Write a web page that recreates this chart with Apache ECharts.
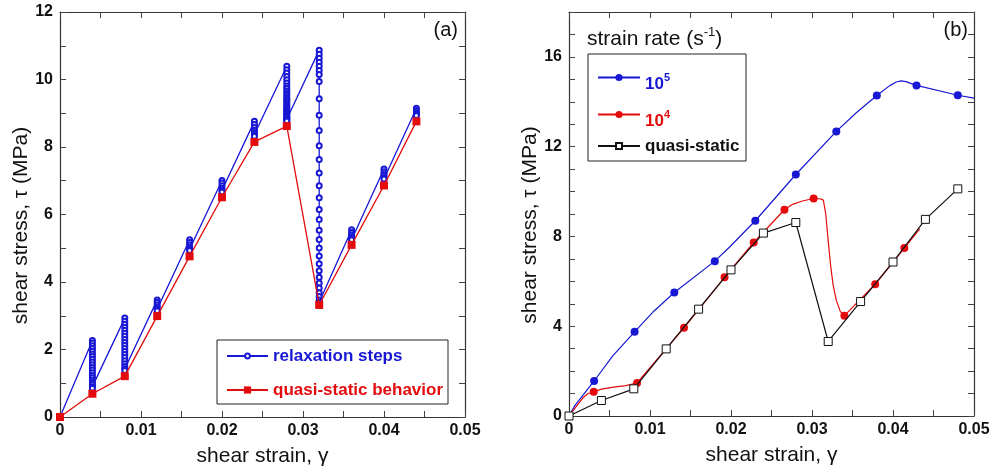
<!DOCTYPE html>
<html>
<head>
<meta charset="utf-8">
<script src="https://cdn.jsdelivr.net/npm/echarts@6/dist/echarts.min.js"></script>
<style>
  html, body { margin: 0; padding: 0; background: #fff; }
  #chart { width: 994px; height: 474px; }
</style>
</head>
<body>
<div id="chart"></div>
<script>
// ---- panel (a): stress relaxation test ----
// applied strain steps
const stepStrain = [0.004, 0.008, 0.012, 0.016, 0.020, 0.024, 0.028, 0.032, 0.036, 0.040, 0.044];
// stress recorded while holding each strain step (MPa), first to last
const relaxStress = [
  [2.27, 2.19, 2.11, 2.03, 1.95, 1.87, 1.79, 1.71, 1.63, 1.55, 1.47, 1.39, 1.31, 1.23, 1.16, 1.09, 1.02, 0.96, 0.90, 0.85],
  [2.93, 2.84, 2.75, 2.66, 2.57, 2.48, 2.39, 2.30, 2.21, 2.12, 2.03, 1.94, 1.85, 1.76, 1.67, 1.58, 1.50, 1.43, 1.38],
  [3.47, 3.39, 3.32, 3.25, 3.19, 3.15],
  [5.25, 5.17, 5.10, 5.03, 4.97, 4.93],
  [7.01, 6.93, 6.85, 6.78, 6.72, 6.67],
  [8.76, 8.67, 8.58, 8.50, 8.43, 8.37, 8.32],
  [10.39, 10.29, 10.19, 10.09, 9.99, 9.90, 9.81, 9.73, 9.66, 9.59, 9.53, 9.47, 9.41, 9.36, 9.31, 9.26, 9.21, 9.16, 9.12, 9.08, 9.04, 9.00, 8.96, 8.92, 8.88, 8.85, 8.82, 8.79, 8.77],
  [10.87, 10.75, 10.63, 10.51, 10.39, 10.27, 10.15, 9.94, 9.43, 8.94, 8.49, 8.04, 7.63, 7.23, 6.85, 6.50, 6.15, 5.85, 5.53, 5.26, 5.01, 4.77, 4.54, 4.33, 4.14, 3.97, 3.82, 3.68, 3.57, 3.47, 3.40],
  [5.55, 5.47, 5.40, 5.34, 5.29, 5.25],
  [7.35, 7.27, 7.20, 7.14, 7.09, 7.05],
  [9.15, 9.08, 9.02, 8.97, 8.93]
];
// relaxed (quasi-static) stress at each strain (MPa)
const qsStrain = [0, 0.004, 0.008, 0.012, 0.016, 0.020, 0.024, 0.028, 0.032, 0.036, 0.040, 0.044];
const qsStress = [0, 0.69, 1.21, 2.99, 4.76, 6.51, 8.15, 8.62, 3.32, 5.10, 6.86, 8.76];

// ---- panel (b): strain-rate dependence ----
// measured points (markers) and extra points tracing each curve between them
const rate5Marks = [[0.0031, 1.56], [0.0081, 3.75], [0.0130, 5.50], [0.0180, 6.90], [0.0230, 8.70], [0.0280, 10.76], [0.0330, 12.68], [0.0380, 14.28], [0.0429, 14.73], [0.0480, 14.29]];
const rate5Curve = [[0, 0], [0.0007, 0.45], [0.0054, 2.68], [0.0105, 4.68], [0.0198, 7.52], [0.0355, 13.52], [0.0396, 14.72], [0.0404, 14.88], [0.0410, 14.93], [0.0416, 14.90], [0.0500, 14.16]];
const rate4Marks = [[0.00305, 1.08], [0.0084, 1.47], [0.0142, 3.93], [0.0192, 6.18], [0.0228, 7.73], [0.0266, 9.19], [0.0302, 9.69], [0.0340, 4.47], [0.0378, 5.87], [0.0414, 7.48]];
const rate4Curve = [[0, 0], [0.0007, 0.33], [0.0017, 0.80], [0.0023, 0.99], [0.0040, 1.20], [0.0055, 1.29], [0.0070, 1.35], [0.0276, 9.43], [0.0288, 9.58], [0.0310, 9.68], [0.0314, 9.62], [0.0317, 9.00], [0.0320, 7.80], [0.0323, 6.70], [0.0326, 5.85], [0.0330, 5.15], [0.0335, 4.65], [0.0433, 8.34]];
const staticStrain = [0, 0.004, 0.008, 0.012, 0.016, 0.020, 0.024, 0.028, 0.032, 0.036, 0.040, 0.044, 0.048];
const staticStress = [0, 0.69, 1.21, 2.99, 4.76, 6.51, 8.15, 8.62, 3.32, 5.10, 6.86, 8.76, 10.12];

const BLUE = '#1717d4';
const RED = '#e30b0b';
const BLACK = '#111';
const FONT = '"Liberation Sans", Arial, Helvetica, sans-serif';

// relaxation path: origin, then every held step in order
const relaxData = [[0, 0]];
stepStrain.forEach((s, i) => relaxStress[i].forEach(v => relaxData.push([s, v])));

// curve with markers only on measured points
function withMarks(curve, marks) {
  const pts = curve.map(p => ({ value: p, symbol: 'none' })).concat(marks.map(p => ({ value: p })));
  pts.sort((a, b) => a.value[0] - b.value[0]);
  return pts;
}

function baseAxis(extra) {
  return Object.assign({
    type: 'value',
    axisLine: { show: true, onZero: false, lineStyle: { color: '#333', width: 1.2 } },
    axisTick: { show: true, inside: true, length: 6, lineStyle: { color: '#444', width: 1 } },
    splitLine: { show: false },
    minorTick: { show: false },
    nameTextStyle: { fontFamily: FONT, fontSize: 21, color: '#111' }
  }, extra);
}

const xLabel = v => (Math.round(v * 1000) % 10 === 0 ? (v === 0 ? '0' : v.toFixed(2)) : '');
function xAxes(grid) {
  return [
    baseAxis({
      gridIndex: grid, min: 0, max: 0.05, interval: 0.005, position: 'bottom',
      name: 'shear strain, γ', nameLocation: 'middle', nameGap: 29,
      axisLabel: { formatter: xLabel, margin: 6, fontFamily: FONT, fontSize: 16, fontWeight: 'bold', color: '#111' }
    }),
    baseAxis({ gridIndex: grid, min: 0, max: 0.05, interval: 0.005, position: 'top', axisLabel: { show: false } })
  ];
}
function yAxes(grid, max, labelStep, gap) {
  return [
    baseAxis({
      gridIndex: grid, min: 0, max: max, interval: 1, position: 'left',
      name: 'shear stress, τ (MPa)', nameLocation: 'middle', nameGap: gap,
      nameTextStyle: { fontFamily: FONT, fontSize: 21, color: '#111', padding: [0, 22, 0, 0] },
      axisLabel: {
        formatter: v => (Math.round(v) % labelStep === 0 ? String(Math.round(v)) : ''),
        margin: 7, fontFamily: FONT, fontSize: 16, fontWeight: 'bold', color: '#111'
      }
    }),
    baseAxis({ gridIndex: grid, min: 0, max: max, interval: 1, position: 'right', axisLabel: { show: false } })
  ];
}

const legendText = { fontFamily: FONT, fontSize: 17, fontWeight: 'bold', lineHeight: 20 };
function legendItem(name, left, top, h, color, extra) {
  return Object.assign({
    data: [name], left: left, top: top, orient: 'vertical', padding: 0,
    itemWidth: 42, itemHeight: h, selectedMode: false,
    textStyle: Object.assign({ color: color }, legendText)
  }, extra || {});
}
const supRich = color => ({
  n: { fontFamily: FONT, fontSize: 17, fontWeight: 'bold', color: color, lineHeight: 20, padding: [14, 0, 0, 0] },
  s: { fontFamily: FONT, fontSize: 11, fontWeight: 'bold', color: color, lineHeight: 12 }
});

const option = {
  animation: false,
  backgroundColor: '#fff',
  grid: [
    { left: 60, top: 12, width: 405, height: 405 },
    { left: 569, top: 12, width: 405, height: 404 }
  ],
  xAxis: xAxes(0).concat(xAxes(1)),
  yAxis: yAxes(0, 12, 2, 28).concat(yAxes(1, 18, 4, 27)),
  title: [
    { text: '(a)', right: 531, top: 15, textStyle: { fontFamily: FONT, fontSize: 20, fontWeight: 'normal', color: '#111' } },
    { text: '(b)', right: 21, top: 15, textStyle: { fontFamily: FONT, fontSize: 20, fontWeight: 'normal', color: '#111' } },
    {
      text: '{t|strain rate (s}{s|-1}{t|)}', left: 582, top: 22,
      textStyle: {
        rich: {
          t: { fontFamily: FONT, fontSize: 21, fontWeight: 'normal', color: '#111', lineHeight: 24 },
          s: { fontFamily: FONT, fontSize: 13, fontWeight: 'normal', color: '#111', lineHeight: 14, padding: [0, 0, 14, 0] }
        }
      }
    }
  ],
  legend: [
    legendItem('relaxation steps', 226, 346, 6, BLUE, { itemWidth: 41 }),
    legendItem('quasi-static behavior', 226, 380, 9, RED, { itemWidth: 41 }),
    legendItem('rate5', 597, 62, 9, BLUE, { formatter: '{n|10}{s|5}', textStyle: { rich: supRich(BLUE) } }),
    legendItem('rate4', 597, 99, 9, RED, { formatter: '{n|10}{s|4}', textStyle: { rich: supRich(RED) } }),
    legendItem('quasi-static', 597, 136, 7.5, BLACK)
  ],
  graphic: [
    { type: 'rect', shape: { x: 217, y: 340, width: 231, height: 64 }, style: { fill: 'none', stroke: '#222', lineWidth: 1 }, z: 50 },
    { type: 'rect', shape: { x: 588, y: 54, width: 158, height: 107 }, style: { fill: 'none', stroke: '#222', lineWidth: 1 }, z: 50 }
  ],
  series: [
    {
      name: 'relaxation steps', type: 'line', xAxisIndex: 0, yAxisIndex: 0, z: 2,
      data: relaxData, symbol: 'emptyCircle', symbolSize: 5, showAllSymbol: true,
      lineStyle: { color: BLUE, width: 1.3 }, itemStyle: { color: BLUE, borderColor: BLUE, borderWidth: 1 }
    },
    {
      name: 'quasi-static behavior', type: 'line', xAxisIndex: 0, yAxisIndex: 0, z: 3,
      data: qsStrain.map((s, i) => [s, qsStress[i]]), symbol: 'rect', symbolSize: 8,
      lineStyle: { color: RED, width: 1.3 }, itemStyle: { color: RED }
    },
    {
      name: 'rate5', type: 'line', xAxisIndex: 2, yAxisIndex: 2, z: 2,
      data: withMarks(rate5Curve, rate5Marks), symbol: 'circle', symbolSize: 8, showAllSymbol: true,
      lineStyle: { color: BLUE, width: 1.2 }, itemStyle: { color: BLUE }
    },
    {
      name: 'rate4', type: 'line', xAxisIndex: 2, yAxisIndex: 2, z: 2,
      data: withMarks(rate4Curve, rate4Marks), symbol: 'circle', symbolSize: 8, showAllSymbol: true,
      lineStyle: { color: RED, width: 1.2 }, itemStyle: { color: RED }
    },
    {
      name: 'quasi-static', type: 'line', xAxisIndex: 2, yAxisIndex: 2, z: 3,
      data: staticStrain.map((s, i) => [s, staticStress[i]]), symbol: 'rect', symbolSize: 8,
      lineStyle: { color: BLACK, width: 1.2 }, itemStyle: { color: '#fff', borderColor: BLACK, borderWidth: 1 }
    }
  ]
};

const chart = echarts.init(document.getElementById('chart'), null, { renderer: 'canvas' });
chart.setOption(option);
</script>
</body>
</html>
